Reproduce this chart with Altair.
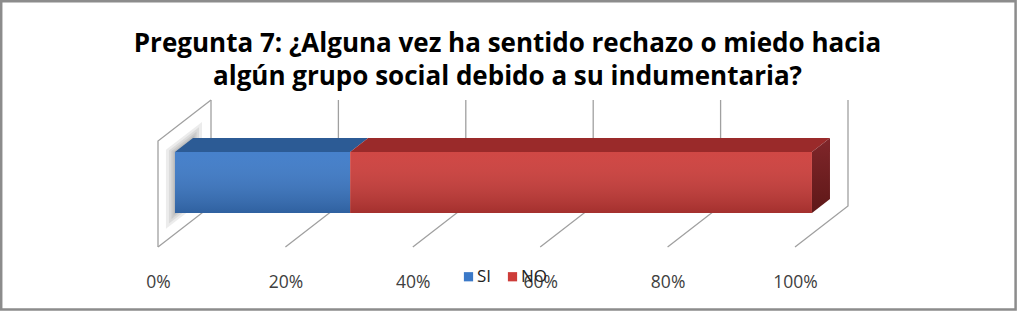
import altair as alt
import pandas as pd

# ---------------- data ----------------
categories = ["SI", "NO"]
values = [27.5, 72.5]            # percent of answers
tick_values = [0, 20, 40, 60, 80, 100]
title_lines = [
    "Pregunta 7: ¿Alguna vez ha sentido rechazo o miedo hacia",
    "algún grupo social debido a su indumentaria?",
]
front_colors = ["#3b79c8", "#cd3c39"]
top_colors = ["#2c5b95", "#9a2a2a"]

# ------------- 3-D projection styling (oblique view) -------------
DX = 8.32      # horizontal shift (in % units) across the full floor depth
DY = 41        # vertical shift (y units) across the full floor depth
WALL_H = 106   # back wall height
BAR_D0, BAR_D1 = 0.32, 0.66   # bar front / back depth
BAR_H0, BAR_H1 = 21, 82       # bar bottom / top height


def P(xpct, h, d):
    """project (value, height, depth) to chart units"""
    return xpct + d * DX, h + d * DY


# walls and gridlines
rows = []
lid = 0
for t in tick_values:
    for seq, (h, d) in enumerate([(0, 0), (0, 1), (WALL_H, 1)]):
        X, Y = P(t, h, d)
        rows.append({"id": lid, "seq": seq, "X": X, "Y": Y})
    lid += 1
for seq, (h, d) in enumerate([(0, 0), (WALL_H, 0), (WALL_H, 1)]):
    X, Y = P(tick_values[0], h, d)
    rows.append({"id": lid, "seq": seq, "X": X, "Y": Y})
grid_df = pd.DataFrame(rows)

# soft shadow of the bar end on the left wall
shadow_rows = []
for k, e in enumerate([9, 6, 3.5, 1.5]):
    for d in (max(BAR_D0 - e / 53, 0.02), BAR_D1 + e / 53):
        X, ya = P(tick_values[0], BAR_H0 - e, d)
        _, yb = P(tick_values[0], BAR_H1 + e, d)
        shadow_rows.append({"k": k, "X": X, "ya": ya, "yb": yb})
shadow_df = pd.DataFrame(shadow_rows)

# bar segments
starts, s = [], 0.0
for v in values:
    starts.append(s)
    s += v
seg_df = pd.DataFrame({
    "cat": categories,
    "x0": [P(a, 0, BAR_D0)[0] for a in starts],
    "x1": [P(a + v, 0, BAR_D0)[0] for a, v in zip(starts, values)],
    "y0": [P(0, BAR_H0, BAR_D0)[1]] * len(values),
    "y1": [P(0, BAR_H1, BAR_D0)[1]] * len(values),
})

top_rows = []
for c, a, v, col in zip(categories, starts, values, top_colors):
    for d in (BAR_D0, BAR_D1):
        xa, Y = P(a, BAR_H1, d)
        xb, _ = P(a + v, BAR_H1, d)
        top_rows.append({"cat": c, "Y": Y, "xa": xa, "xb": xb, "col": col})
top_df = pd.DataFrame(top_rows)

total = starts[-1] + values[-1]
side_rows = []
for d in (BAR_D0, BAR_D1):
    X, ya = P(total, BAR_H0, d)
    _, yb = P(total, BAR_H1, d)
    side_rows.append({"X": X, "ya": ya, "yb": yb})
side_df = pd.DataFrame(side_rows)

# ---------------- scales / axes ----------------
xs = alt.Scale(domain=[0, 100], nice=False, zero=False)
ys = alt.Scale(domain=[0, 150], nice=False, zero=False)
xaxis = alt.Axis(values=tick_values, labelExpr="datum.value + '%'", domain=False,
                 ticks=False, grid=False, labelPadding=26, labelFontSize=17.5,
                 labelFont="Open Sans", labelColor="#404040", title=None,
                 labelFlush=False, labelOverlap=False)

shadow = alt.Chart(shadow_df).mark_area(orient="vertical", color="#505050",
                                        opacity=0.11).encode(
    x=alt.X("X:Q", scale=xs, axis=xaxis),
    y=alt.Y("ya:Q", scale=ys, axis=None),
    y2="yb:Q",
    detail="k:N",
)

grid = alt.Chart(grid_df).mark_line(color="#a0a0a0", strokeWidth=1.3).encode(
    x=alt.X("X:Q", scale=xs, axis=xaxis),
    y=alt.Y("Y:Q", scale=ys, axis=None),
    detail="id:N",
    order="seq:Q",
)

front = alt.Chart(seg_df).mark_rect().encode(
    x=alt.X("x0:Q", scale=xs, axis=xaxis),
    x2="x1:Q",
    y=alt.Y("y0:Q", scale=ys, axis=None),
    y2="y1:Q",
    color=alt.Color("cat:N", scale=alt.Scale(domain=categories, range=front_colors),
                    legend=alt.Legend(orient="none", legendX=302, legendY=171,
                                      direction="horizontal", title=None,
                                      symbolType="square", symbolSize=85,
                                      symbolStrokeWidth=0, labelFontSize=17,
                                      labelFont="Open Sans", labelColor="#222",
                                      columnPadding=12, labelOffset=0)),
)

shade = alt.Chart(seg_df).mark_rect(
    fill=alt.Gradient(gradient="linear", x1=0, x2=0, y1=0, y2=1,
                      stops=[alt.GradientStop(color="rgba(255,255,255,0.06)", offset=0),
                             alt.GradientStop(color="rgba(0,0,0,0.2)", offset=1)])
).encode(
    x=alt.X("x0:Q", scale=xs, axis=xaxis),
    x2="x1:Q",
    y=alt.Y("y0:Q", scale=ys, axis=None),
    y2="y1:Q",
)

top = alt.Chart(top_df).mark_area(orient="horizontal").encode(
    y=alt.Y("Y:Q", scale=ys, axis=None),
    x=alt.X("xa:Q", scale=xs, axis=xaxis),
    x2="xb:Q",
    fill=alt.Fill("col:N", scale=None),
    detail="cat:N",
)

side = alt.Chart(side_df).mark_area(
    orient="vertical",
    fill=alt.Gradient(gradient="linear", x1=0, x2=0, y1=0, y2=1,
                      stops=[alt.GradientStop(color="#80262a", offset=0),
                             alt.GradientStop(color="#5e1818", offset=1)])
).encode(
    x=alt.X("X:Q", scale=xs, axis=xaxis),
    y=alt.Y("ya:Q", scale=ys, axis=None),
    y2="yb:Q",
)

frame = alt.Chart(pd.DataFrame({"k": [0]})).mark_rect(
    fill=None, stroke="#8c8c8c", strokeWidth=2.5
).encode(
    x=alt.value(-156.8), x2=alt.value(857.6),
    y=alt.value(-95.8), y2=alt.value(212.6),
)

chart = alt.layer(shadow, grid, top, side, front, shade, frame).properties(
    width=637,
    height=150,
    padding={"left": 158, "top": 97, "right": 222, "bottom": 64},
    autosize=alt.AutoSizeParams(type="none"),
    background="white",
    title=alt.TitleParams(text=title_lines, font="Open Sans", fontSize=26,
                          fontWeight="bold", color="black", anchor="middle",
                          frame="group", dx=31, dy=90, lineHeight=33, offset=0),
).configure_view(stroke=None)

chart.save("out.html", embed_options={"renderer": "svg", "actions": False})
